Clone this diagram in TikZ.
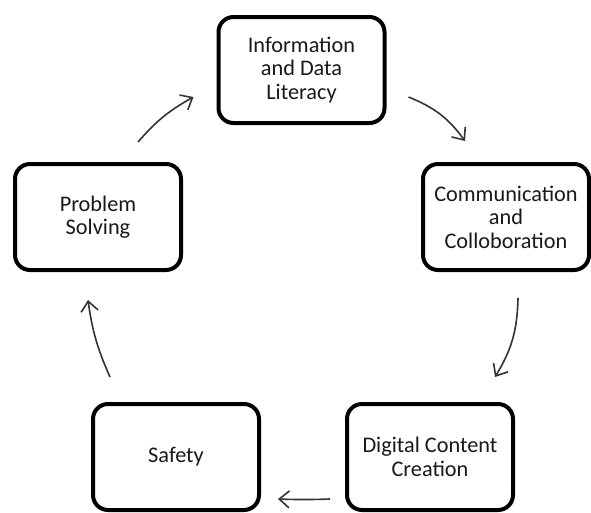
\documentclass[tikz,border=0pt]{standalone}
\usepackage{fontspec}
\setmainfont{Carlito}
\usetikzlibrary{arrows.meta,calc}
\begin{document}
\begin{tikzpicture}[x=1pt,y=-1pt,
  stagebox/.style={draw=black,line width=4pt,rounded corners=15pt,fill=white,
    minimum width=166pt,minimum height=106pt,align=center,inner sep=2pt,
    font=\fontsize{22.3}{23.5}\selectfont,text=black!90},
  arr/.style={draw=black!80,line width=1.6pt,-{Straight Barb[length=10pt,width=17pt,line width=1.6pt]}}]
\useasboundingbox (0,0) rectangle (591,512);
\node[stagebox] (info) at (301.5,70) {Information\\and Data\\Literacy};
\node[stagebox] (comm) at (506,217) {Communication\\and\\Colloboration};
\node[stagebox] (dig) at (430,457) {Digital Content\\Creation};
\node[stagebox] (safe) at (176,457) {Safety};
\node[stagebox] (prob) at (98,217) {Problem\\Solving};
\coordinate (a1s) at ($(info.east)+(22,27)$);
\coordinate (a1e) at ($(comm.north)+(-41,-21)$);
\coordinate (a2s) at ($(comm.south)+(12,26)$);
\coordinate (a2e) at ($(dig.north)+(65,-25)$);
\coordinate (a3s) at ($(dig.west)+(-15,42)$);
\coordinate (a3e) at ($(safe.east)+(17,42)$);
\coordinate (a4s) at ($(safe.north)+(-66,-25)$);
\coordinate (a4e) at ($(prob.south)+(-10,28)$);
\coordinate (a5s) at ($(prob.north)+(40,-20)$);
\coordinate (a5e) at ($(info.west)+(-23,27)$);
\draw[arr] (a1s) to[bend left=16] (a1e);
\draw[arr] (a2s) to[bend left=15] (a2e);
\draw[arr] (a3s) to[bend left=2] (a3e);
\draw[arr] (a4s) to[bend left=8] (a4e);
\draw[arr] (a5s) to[bend left=10] (a5e);
\end{tikzpicture}
\end{document}
